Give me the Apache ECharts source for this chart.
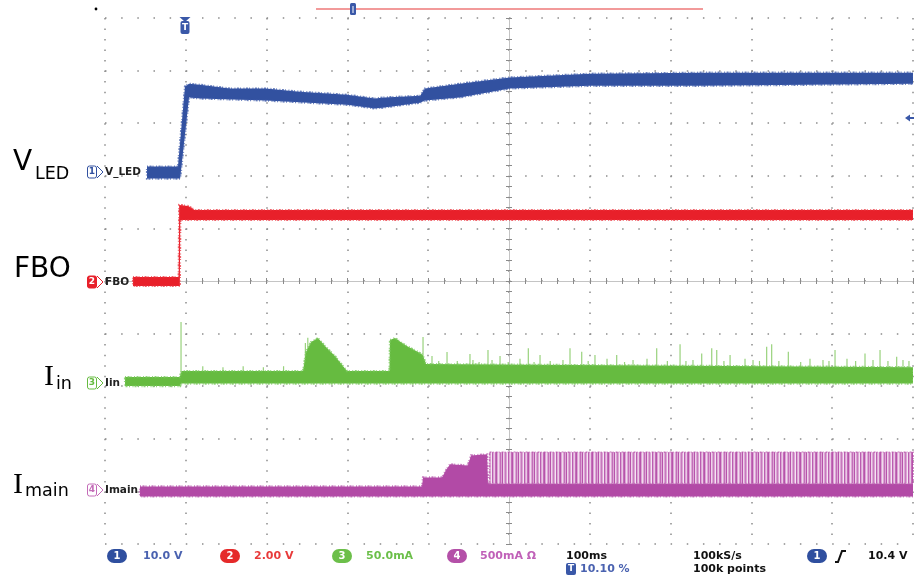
<!DOCTYPE html>
<html><head><meta charset="utf-8">
<script src="https://cdn.jsdelivr.net/npm/echarts@6/dist/echarts.min.js"></script>
<style>html,body{margin:0;padding:0;background:#fff}#c{width:917px;height:581px}</style>
</head><body><div id="c"></div>
<script>
// ---- time base: ms, 100 ms/div, trigger at 10.10 % of the record ----
const timeRange = [-101, 899];

// ---- CH1 V_LED (V): upper / lower envelope of the noisy trace [t ms, V] ----
const vledHi = [[-49,0.95],[-10.7,0.95],[-2,16.2],[3,16.7],[16.6,16.5],[53.7,15.8],[98,15.8],[140,15.2],[198.5,14.6],[233,13.9],[245,14.1],[289,14.4],[295,15.8],[338,16.7],[400,17.9],[499,18.6],[635,18.8],[899,18.8]];
const vledLo = [[-49,-1.33],[-8,-1.33],[3,14.1],[16.6,13.9],[98,13.5],[198.5,12.7],[233,12.0],[245,12.2],[289,13.1],[295,13.5],[338,14.1],[400,15.8],[499,16.3],[635,16.3],[899,16.7]];

// ---- CH2 FBO (V) ----
const fboHi = [[-66.3,0.15],[-9.8,0.15],[-9.2,2.89],[2,2.85],[10,2.70],[899,2.70]];
const fboLo = [[-66.3,-0.19],[-8.4,-0.19],[-7.8,2.32],[899,2.32]];

// ---- CH3 Iin (mA) ----
const iinHi = [[-76.2,5.7],[-8.5,5.7],[-6,11.4],[144,11.4],[147.8,29.5],[154,39],[162.6,42.8],[171.3,35.2],[183.6,25.7],[198.5,11.4],[251,11.4],[251.7,40.9],[257.9,42.8],[270.3,36.1],[286.4,29.5],[292,27],[296.3,18.0],[899,15.0]];
const iinLo = [[-76.2,-2.9],[-8,-2.9],[-7,-0.5],[899,-0.5]];
const iinSpikes = [[-6.9,58],[20,16],[45,15],[70,16],[95,15],[120,16],[147,38],[150,43],[292.6,43.7],[303.7,25.7],[312,21],[322.3,29.5],[335,21],[350.7,27.6],[354.4,22],[362,20],[373,31.4],[378,22],[387.9,25.7],[398,20],[412.6,23],[422.9,33],[430,20],[437.4,26.6],[450,21],[465.8,22],[474.5,33],[489,29.8],[497,21],[505.4,26.6],[520.3,23],[532.3,26.6],[542,20],[552.5,22],[569.8,23],[581.8,33],[595,21],[610.7,36.8],[618,21],[626.7,22],[637.5,28.2],[649.9,33],[656.1,31.4],[665,21],[672.6,26.6],[691.1,23],[701,22],[709,21],[717.9,34.5],[724.1,36.8],[733,21],[744.7,29.8],[760,20],[771.5,23],[787.6,22],[795,21],[802.5,31.4],[817.3,23],[828,21],[839.6,28.2],[849.5,22],[858.2,31.4],[868,21],[878.8,25],[886.6,22],[894,21]];

// ---- CH4 Imain (mA) ----
const imainHi = [[-57.7,47.5],[291.3,47.5],[292.6,133],[316,133],[321,200],[326,257],[348,247],[352,342],[372,352],[373,76],[899,76]];
const imainLo = [[-57.7,-47.5],[899,-47.5]];
const pwmT = [375, 899];
const pwmHi = [371, 371];
const pwmLo = [76, 76];

// ---- channel settings: units per division, ground position (div from bottom) ----
const chPerDiv = [10, 2, 50, 500];
const chGround = [7.08, 5.0, 3.06, 1.0];

const C = { blue:'#3251a0', red:'#e8202a', green:'#66bb40', mag:'#b24aa6' };
const fringe = { blue:'rgba(60,90,170,0.75)', red:'rgba(235,50,60,0.75)', green:'rgba(120,200,90,0.8)', mag:'rgba(180,80,170,0.75)' };

function band(hi, lo, yIdx, fill, stroke, z) {
  return {
    type:'custom', coordinateSystem:'cartesian2d', xAxisIndex:1, yAxisIndex:yIdx,
    silent:true, clip:true, z: z || 3, data:[hi[0]],
    renderItem:(params, api) => {
      const pts = hi.map(p => api.coord(p)).concat(lo.slice().reverse().map(p => api.coord(p)));
      return { type:'polygon', shape:{ points: pts }, style:{ fill, stroke, lineWidth: 2.2, lineDash:[1,1.5,2,1,1,2.5] } };
    }
  };
}

// PWM stripe pattern overlay (style only): dark / light / transparent columns
const stripeCols = ['rgba(178,74,166,0.9)','rgba(0,0,0,0)','rgba(255,255,255,0.6)','rgba(0,0,0,0)','rgba(178,74,166,0.6)','rgba(0,0,0,0)','rgba(178,74,166,0.9)','rgba(255,255,255,0.5)','rgba(0,0,0,0)','rgba(178,74,166,0.5)','rgba(0,0,0,0)','rgba(255,255,255,0.7)','rgba(178,74,166,0.8)','rgba(0,0,0,0)','rgba(255,255,255,0.4)','rgba(178,74,166,0.6)'];
const pc = document.createElement('canvas'); pc.width = stripeCols.length; pc.height = 2;
const pctx = pc.getContext('2d');
stripeCols.forEach((c,i) => { pctx.fillStyle = c; pctx.fillRect(i,0,1,2); });

const pwmHiPts = pwmT.map((t,i) => [t, pwmHi[i]]);
const pwmLoPts = pwmT.map((t,i) => [t, pwmLo[i]]);

const chAxes = chPerDiv.map((s,i) => ({
  type:'value', show:false, min: -chGround[i]*s, max: (10-chGround[i])*s,
  axisLine:{onZero:false}, splitLine:{show:false}
}));

const gridAxisCommon = { type:'value', min:-5, max:5, interval:1, axisLabel:{show:false} };

function pwmLayer(fill, stroke, z) {
  return {
    type:'custom', coordinateSystem:'cartesian2d', xAxisIndex:1, yAxisIndex:4, silent:true, z,
    data:[pwmHiPts[0]],
    renderItem:(params, api) => {
      const pts = pwmHiPts.map(p => api.coord(p)).concat(pwmLoPts.slice().reverse().map(p => api.coord(p)));
      return { type:'polygon', shape:{points:pts}, style:{ fill, stroke: stroke || null, lineWidth:1.5, lineDash:[2,1,1,2] } };
    }
  };
}

const series = [
  band(vledHi, vledLo, 1, C.blue, fringe.blue),
  band(fboHi, fboLo, 2, C.red, fringe.red),
  {
    type:'custom', coordinateSystem:'cartesian2d', xAxisIndex:1, yAxisIndex:3, silent:true, z:2,
    data: iinSpikes,
    renderItem:(params, api) => {
      const p1 = api.coord([api.value(0), 10]); const p2 = api.coord([api.value(0), api.value(1)]);
      return { type:'line', shape:{x1:p1[0], y1:p1[1], x2:p2[0], y2:p2[1]}, style:{stroke:'#98d27c', lineWidth:1.2} };
    }
  },
  band(iinHi, iinLo, 3, C.green, fringe.green),
  band(imainHi, imainLo, 4, C.mag, fringe.mag),
  pwmLayer('#dca6d5', '#c470b8', 3),
  pwmLayer({image: pc, repeat:'repeat'}, null, 4)
];

// ---- graphic texts ----
const G = [];
function txt(x, y, text, font, fill, align) {
  G.push({type:'text', x, y, silent:true, z:10, style:{text, font, fill, align: align || 'left', verticalAlign:'middle'}});
}
function rect(x, y, w, h, r, fill, stroke) {
  G.push({type:'rect', silent:true, z:10, shape:{x, y, width:w, height:h, r}, style:{fill: fill || 'none', stroke: stroke || null, lineWidth:1}});
}
function poly(points, fill, stroke, lw, closed) {
  G.push({type: closed ? 'polygon' : 'polyline', silent:true, z:10, shape:{points}, style:{fill: fill || 'none', stroke: stroke || null, lineWidth: lw || 1}});
}
const F = '"DejaVu Sans"';

// left labels
txt(13, 163, 'V', '28px ' + F, '#000');
txt(35, 174, 'LED', '17.5px ' + F, '#000');
txt(14, 270, 'FBO', '28px ' + F, '#000');
txt(44, 377, 'I', '30px "Liberation Serif"', '#000');
txt(56, 384, 'in', '17.5px ' + F, '#000');
txt(13, 485, 'I', '30px "Liberation Serif"', '#000');
txt(25, 491, 'main', '17.5px ' + F, '#000');

// channel ground markers
function marker(y, num, color, label, filled) {
  rect(87.5, y-6, 9, 12, 2, filled ? color : '#fff', color);
  txt(92, y, num, 'bold 9px ' + F, filled ? '#fff' : color, 'center');
  poly([[97, y-6],[103, y],[97, y+6]], null, color, 1);
  txt(105, y, label, 'bold 10.5px ' + F, '#222');
}
marker(172, '1', C.blue, 'V_LED');
marker(282, '2', C.red, 'FBO', true);
marker(383, '3', C.green, 'Iin');
marker(490, '4', '#c46cb8', 'Imain');

// status bar
function pill(x, color, num, y) {
  rect(x, (y||556)-7, 20, 14, 7, color);
  txt(x+10, y||556, num, 'bold 10px ' + F, '#fff', 'center');
}
const SF = 'bold 11px ' + F;
pill(107, '#2f4f9f', '1'); txt(143, 556, '10.0 V', SF, '#4a62b0');
pill(220, '#e52a2a', '2'); txt(254, 556, '2.00 V', SF, '#e83a3a');
pill(332, '#6cbf4a', '3'); txt(366, 556, '50.0mA', SF, '#6cbf4a');
pill(447, '#b450a8', '4'); txt(480, 556, '500mA Ω', SF, '#c060b8');
txt(566, 556, '100ms', SF, '#111');
rect(566, 563, 10, 12, 2, '#3a58a8'); txt(571, 569, 'T', 'bold 9px ' + F, '#fff', 'center');
txt(580, 569, '10.10 %', SF, '#4a62b0');
txt(693, 556, '100kS/s', SF, '#111');
txt(693, 569, '100k points', SF, '#111');
pill(807, '#2f4f9f', '1');
poly([[835,562],[838,562],[842,551],[846,551]], null, '#111', 2);
txt(868, 556, '10.4 V', SF, '#111');

// top markers
G.push({type:'circle', silent:true, z:10, shape:{cx:96, cy:9, r:1.4}, style:{fill:'#000'}});
G.push({type:'line', silent:true, z:10, shape:{x1:316, y1:9, x2:703, y2:9}, style:{stroke:'#f29a9a', lineWidth:2}});
rect(350, 3, 6, 12, 1.5, '#3a58a8');
G.push({type:'line', silent:true, z:11, shape:{x1:353, y1:6, x2:353, y2:13}, style:{stroke:'#fff', lineWidth:1}});
poly([[179.5,17],[190.5,17],[185,22]], '#3a58a8', null, 1, true);
rect(180.5, 21, 9, 13, 2, '#3a58a8');
txt(185, 28, 'T', 'bold 9px ' + F, '#fff', 'center');
// trigger level arrow (right)
poly([[905,118],[910,114.5],[910,121.5]], '#3a58a8', null, 1, true);
G.push({type:'line', silent:true, z:10, shape:{x1:908, y1:118, x2:914, y2:118}, style:{stroke:'#3a58a8', lineWidth:2}});

const option = {
  animation:false,
  backgroundColor:'#fff',
  grid:{left:105, right:4, top:18, bottom:37, containLabel:false, outerBoundsMode:'none'},
  xAxis:[
    Object.assign({}, gridAxisCommon, {
      position:'bottom',
      axisLine:{show:true, onZero:true, onZeroAxisIndex:0, lineStyle:{color:'#c4c4c4', width:1}},
      axisTick:{show:true, length:3, inside:false, lineStyle:{color:'#8a8a8a'}},
      minorTick:{show:true, splitNumber:5, length:3, lineStyle:{color:'#8a8a8a'}},
      splitLine:{show:true, lineStyle:{color:'#8c8c8c', width:1.5, type:[1.5, 9.02]}}
    }),
    { type:'value', show:false, min:timeRange[0], max:timeRange[1], position:'bottom', axisLine:{onZero:false}, splitLine:{show:false} },
    Object.assign({}, gridAxisCommon, {
      position:'bottom',
      axisLine:{show:false, onZero:true, onZeroAxisIndex:0},
      axisTick:{show:true, length:3, inside:true, lineStyle:{color:'#8a8a8a'}},
      minorTick:{show:true, splitNumber:5, length:3, lineStyle:{color:'#8a8a8a'}},
      splitLine:{show:false}
    })
  ],
  yAxis:[
    Object.assign({}, gridAxisCommon, {
      position:'left',
      axisLine:{show:true, onZero:true, onZeroAxisIndex:0, lineStyle:{color:'#c4c4c4', width:1}},
      axisTick:{show:true, length:3, inside:false, lineStyle:{color:'#8a8a8a'}},
      minorTick:{show:true, splitNumber:5, length:3, lineStyle:{color:'#8a8a8a'}},
      splitLine:{show:true, lineStyle:{color:'#8c8c8c', width:1.5, type:[1.5, 14.66]}}
    }),
    chAxes[0], chAxes[1], chAxes[2], chAxes[3],
    Object.assign({}, gridAxisCommon, {
      position:'left',
      axisLine:{show:false, onZero:true, onZeroAxisIndex:0},
      axisTick:{show:true, length:3, inside:true, lineStyle:{color:'#8a8a8a'}},
      minorTick:{show:true, splitNumber:5, length:3, lineStyle:{color:'#8a8a8a'}},
      splitLine:{show:false}
    })
  ],
  series,
  graphic: G
};

const chart = echarts.init(document.getElementById('c'), null, {renderer:'canvas'});
chart.setOption(option);
</script>
</body></html>
